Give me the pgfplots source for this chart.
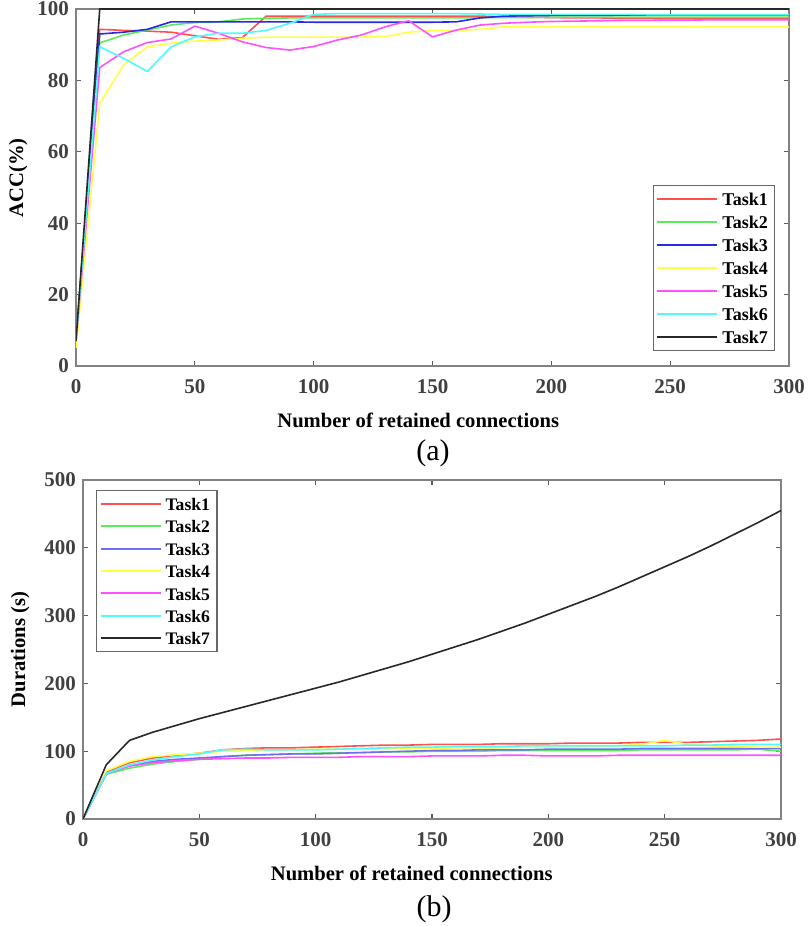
\documentclass[border=0pt]{standalone}
\usepackage{pgfplots}
\usepackage{pgfplotstable}
\pgfplotsset{compat=1.18}
\usepackage{fontspec}
\setmainfont{Liberation Serif}

\definecolor{cR}{RGB}{255,80,80}
\definecolor{cG}{RGB}{90,235,90}
\definecolor{cB}{RGB}{40,40,230}
\definecolor{cBb}{RGB}{110,110,245}
\definecolor{cY}{RGB}{255,255,70}
\definecolor{cM}{RGB}{255,80,255}
\definecolor{cC}{RGB}{80,250,250}
\definecolor{cK}{RGB}{40,40,40}
\definecolor{axgray}{RGB}{130,130,130}

\pgfplotstableread{
x t1 t2 t3 t4 t5 t6 t7
0 7 7 7 5 7 7 7
10 94.3 90.5 93.0 73.6 83.6 89.4 100
20 94.0 92.7 93.5 84.3 88.0 86.2 100
30 93.8 94.1 94.3 89.4 90.6 82.5 100
40 93.5 95.5 96.4 90.4 91.6 89.4 100
50 92.5 96.2 96.4 91.0 95.2 92.2 100
60 91.5 96.4 96.4 91.3 93.2 93.2 100
70 92.0 97.2 96.4 91.8 90.8 93.2 100
80 98.0 97.4 96.4 92.1 89.2 94.0 100
90 98.0 97.5 96.4 92.1 88.5 96.0 100
100 98.0 97.5 96.3 92.1 89.5 98.5 100
110 98.0 97.5 96.3 92.1 91.3 98.7 100
120 98.0 97.5 96.3 92.1 92.7 98.7 100
130 98.0 97.5 96.3 92.3 95.0 98.7 100
140 98.0 97.5 96.3 93.5 96.7 98.7 100
150 98.0 97.5 96.3 94.0 92.2 98.7 100
160 98.0 97.5 96.4 94.0 94.1 98.7 100
170 98.0 97.6 97.5 94.3 95.5 98.6 100
180 97.8 97.6 98.0 95.0 96.0 98.5 100
190 97.7 97.6 98.1 95.0 96.3 98.5 100
200 97.6 97.7 98.2 95.0 96.5 98.5 100
210 97.5 97.7 98.2 95.0 96.6 98.5 100
220 97.5 97.7 98.2 95.0 96.7 98.5 100
230 97.4 97.7 98.3 95.0 96.8 98.5 100
240 97.4 97.7 98.3 95.0 96.8 98.4 100
250 97.3 97.7 98.3 95.0 96.9 98.4 100
260 97.3 97.7 98.3 95.0 96.9 98.4 100
270 97.3 97.7 98.3 95.0 97.0 98.4 100
280 97.2 97.7 98.3 95.0 97.0 98.4 100
290 97.2 97.7 98.3 95.0 97.0 98.4 100
300 97.2 97.7 98.3 95.0 97.0 98.4 100
}\acctable

\pgfplotstableread{
x t1 t2 t3 t4 t5 t6 t7
0 0 0 0 0 0 0 0
10 70 66 68 71 67 67 80
20 83 75 79 85 78 80 116
30 90 81 85 92 83 87 128
40 94 85 88 95 86 92 138
50 97 88 90 97 88 96 148
60 102 92 92 100 89 102 157
70 104 94 94 101 90 103 166
80 105 95 95 102 90 102 175
90 105 96 96 102 91 102 184
100 106 97 96 103 91 102 193
110 107 98 97 103 91 103 202
120 108 98 98 103 92 104 212
130 109 99 99 104 92 105 222
140 109 99 100 104 92 106 232
150 110 100 101 104 93 106 243
160 110 100 101 105 93 107 254
170 110 100 102 105 93 107 265
180 111 101 102 105 94 107 277
190 111 101 102 106 94 108 289
200 111 101 103 106 93 108 302
210 112 101 103 106 93 108 315
220 112 101 103 107 93 108 328
230 112 101 103 108 94 108 342
240 113 102 104 110 94 108 357
250 113 102 104 116 94 108 372
260 113 102 104 110 94 109 387
270 114 102 104 108 94 109 403
280 115 102 104 107 94 110 420
290 116 103 104 106 94 110 437
300 118 100 104 106 94 110 455
}\durtable

\pgfplotsset{
  mystyle/.style={
    scale only axis,
    xmin=0, xmax=300,
    xtick={0,50,...,300},
    axis line style={axgray, line width=0.7pt},
    every tick/.style={axgray!70!black, line width=0.6pt},
    major tick length=2.5pt,
    tick align=inside,
    /pgf/number format/assume math mode=true,
    ticklabel style={font=\fontsize{10.5}{12}\selectfont\bfseries, text=black!75},
    xticklabel style={yshift=-3pt},
    label style={font=\fontsize{10.3}{12}\selectfont\bfseries},
    legend cell align=left,
    legend image code/.code={\draw[##1, line width=1pt] (0pt,0pt) -- (30pt,0pt);},
    every axis plot/.append style={line width=0.8pt},
  }
}

\begin{document}
\begin{tikzpicture}
\useasboundingbox (0,0) rectangle (404pt,463pt);
% ---------- (a)
\begin{axis}[mystyle,
  at={(38pt,280pt)}, anchor=south west,
  width=356.5pt, height=178.5pt,
  ymin=0, ymax=100, ytick={0,20,...,100},
  xlabel={Number of retained connections},
  xlabel style={at={(axis description cs:0.480,-0.151)}, anchor=center},
  ylabel={ACC(\%)},
  ylabel style={at={(axis description cs:-0.081,0.527)}, anchor=center, rotate=0},
  legend style={at={(axis description cs:0.809,0.507)}, anchor=north west,
    draw=axgray!80!black, line width=0.6pt, inner xsep=1.5pt, inner ysep=1pt,
    font=\fontsize{9}{10}\selectfont\bfseries,
    nodes={inner ysep=2.4pt, text height=6.7pt, text depth=0pt, inner xsep=2pt}},
]
\addplot[cR] table[x=x,y=t1] {\acctable};
\addplot[cG] table[x=x,y=t2] {\acctable};
\addplot[cB] table[x=x,y=t3] {\acctable};
\addplot[cY] table[x=x,y=t4] {\acctable};
\addplot[cM] table[x=x,y=t5] {\acctable};
\addplot[cC] table[x=x,y=t6] {\acctable};
\addplot[cK] table[x=x,y=t7] {\acctable};
\legend{Task1,Task2,Task3,Task4,Task5,Task6,Task7}
\end{axis}
% ---------- (b)
\begin{axis}[mystyle,
  at={(41.5pt,53.5pt)}, anchor=south west,
  width=349pt, height=169.5pt,
  ymin=0, ymax=500, ytick={0,100,...,500},
  xlabel={Number of retained connections},
  xlabel style={at={(axis description cs:0.471,-0.159)}, anchor=center},
  ylabel={Durations (s)},
  ylabel style={at={(axis description cs:-0.090,0.50)}, anchor=center, rotate=0},
  legend style={at={(axis description cs:0.0186,0.9705)}, anchor=north west,
    draw=axgray!80!black, line width=0.6pt, inner xsep=1.5pt, inner ysep=1pt,
    font=\fontsize{8.8}{10}\selectfont\bfseries,
    nodes={inner ysep=2.3pt, text height=6.6pt, text depth=0pt, inner xsep=2pt}},
]
\addplot[cR] table[x=x,y=t1] {\durtable};
\addplot[cG] table[x=x,y=t2] {\durtable};
\addplot[cBb] table[x=x,y=t3] {\durtable};
\addplot[cY] table[x=x,y=t4] {\durtable};
\addplot[cM] table[x=x,y=t5] {\durtable};
\addplot[cC] table[x=x,y=t6] {\durtable};
\addplot[cK] table[x=x,y=t7] {\durtable};
\legend{Task1,Task2,Task3,Task4,Task5,Task6,Task7}
\end{axis}
\node[font=\fontsize{15}{17}\selectfont] at (216.5pt,236.5pt) {(a)};
\node[font=\fontsize{15}{17}\selectfont] at (217pt,8.5pt) {(b)};
\end{tikzpicture}
\end{document}
